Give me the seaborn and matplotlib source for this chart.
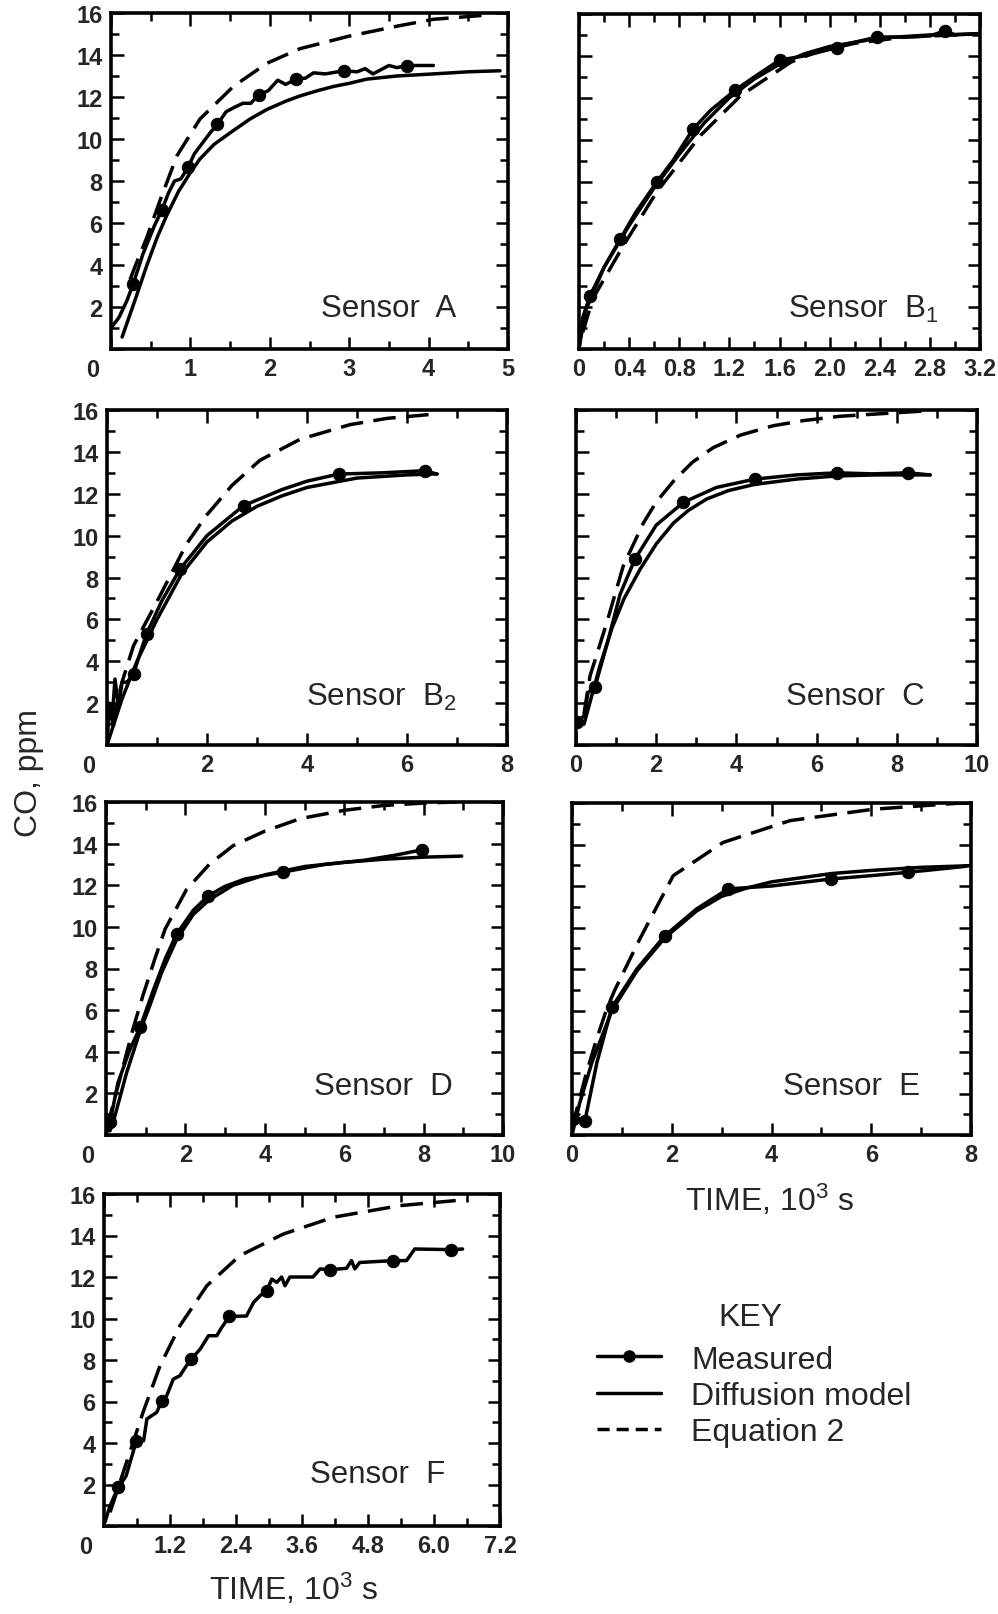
import matplotlib
matplotlib.use("Agg")
import matplotlib.pyplot as plt
import seaborn as sns
from matplotlib.lines import Line2D
from matplotlib.ticker import FixedLocator, FixedFormatter, MultipleLocator

sns.set_style("ticks")
plt.rcParams['font.family'] = ['Liberation Sans', 'DejaVu Sans']
plt.rcParams['mathtext.fontset'] = 'custom'
plt.rcParams['mathtext.rm'] = 'Liberation Sans'
plt.rcParams['mathtext.it'] = 'Liberation Sans:italic'
plt.rcParams['mathtext.bf'] = 'Liberation Sans:bold'

# ---- data (time in 10^3 s, CO in ppm) ----
# Sensor A
a_meas_t = [0.0, 0.1, 0.2, 0.28, 0.4, 0.55, 0.64, 0.72, 0.8, 0.88, 0.97, 1.05, 1.15, 1.25, 1.34, 1.45,
            1.55, 1.66, 1.76, 1.86, 1.98, 2.1, 2.2, 2.33, 2.45, 2.55, 2.7, 2.93, 3.1, 3.2, 3.3, 3.4,
            3.5, 3.6, 3.73, 3.9, 4.06]
a_meas_y = [1.0, 1.5, 2.3, 3.1, 4.5, 5.9, 6.6, 7.4, 8.0, 8.1, 8.65, 9.3, 9.8, 10.3, 10.7, 11.3,
            11.5, 11.7, 11.7, 12.1, 12.3, 12.8, 12.6, 12.85, 12.9, 13.15, 13.1, 13.25, 13.2, 13.35, 13.1, 13.3,
            13.5, 13.4, 13.5, 13.5, 13.5]
a_dot_t = [0.28, 0.64, 0.97, 1.34, 1.86, 2.33, 2.93, 3.73]
a_dot_y = [3.1, 6.6, 8.65, 10.7, 12.1, 12.85, 13.25, 13.5]
a_diff_t = [0.14, 0.3, 0.45, 0.58, 0.7, 0.85, 1.0, 1.12, 1.3, 1.54, 1.75, 1.96, 2.2, 2.38, 2.6, 2.8,
            3.0, 3.22, 3.6, 4.06, 4.5, 4.9]
a_diff_y = [0.57, 2.3, 3.97, 5.3, 6.35, 7.5, 8.4, 9.05, 9.75, 10.4, 10.95, 11.4, 11.8, 12.05, 12.3, 12.5,
            12.65, 12.85, 13.0, 13.1, 13.2, 13.25]
a_eq_t = [0.24, 0.3, 0.45, 0.62, 0.83, 1.12, 1.54, 1.96, 2.38, 3.0, 3.64, 4.06, 4.73]
a_eq_y = [3.3, 3.9, 5.3, 7.1, 9.2, 10.95, 12.5, 13.6, 14.3, 14.9, 15.4, 15.7, 15.9]

# Sensor B1
b1_meas_t = [0.0, 0.03, 0.088, 0.2, 0.33, 0.45, 0.62, 0.75, 0.91, 1.05, 1.245, 1.4, 1.6, 1.8, 2.06,
             2.2, 2.38, 2.6, 2.8, 2.92, 3.0, 3.2]
b1_meas_y = [0.0, 1.5, 2.55, 3.9, 5.26, 6.5, 7.97, 9.0, 10.5, 11.4, 12.36, 13.0, 13.8, 14.0, 14.4,
             14.65, 14.9, 14.9, 14.95, 15.2, 15.0, 15.07]
b1_dot_t = [0.088, 0.33, 0.62, 0.91, 1.245, 1.6, 2.06, 2.38, 2.92]
b1_dot_y = [2.55, 5.26, 7.97, 10.5, 12.36, 13.8, 14.4, 14.9, 15.2]
b1_diff_t = [0.0, 0.05, 0.2, 0.4, 0.6, 0.8, 1.0, 1.2, 1.4, 1.6, 1.8, 2.0, 2.4, 2.8, 3.2]
b1_diff_y = [0.0, 1.8, 3.9, 5.9, 7.7, 9.3, 10.8, 12.0, 12.9, 13.6, 14.1, 14.45, 14.85, 15.0, 15.05]
b1_eq_t = [0.03, 0.11, 0.35, 0.62, 0.97, 1.29, 1.69, 1.9, 2.2, 2.6, 3.0, 3.2]
b1_eq_y = [0.8, 2.4, 4.9, 7.5, 10.2, 12.1, 13.7, 14.2, 14.6, 14.9, 15.0, 15.05]

# Sensor B2
b2_meas_t = [0.0, 0.05, 0.1, 0.16, 0.23, 0.3, 0.4, 0.53, 0.65, 0.79, 1.1, 1.46, 2.0, 2.73, 3.5, 4.0,
             4.63, 5.5, 6.36, 6.6]
b2_meas_y = [0.0, 2.0, 1.2, 3.15, 1.8, 3.0, 3.0, 3.39, 4.3, 5.3, 6.9, 8.4, 10.0, 11.43, 12.2, 12.6,
             12.94, 13.0, 13.1, 12.94]
b2_dot_t = [0.53, 0.79, 1.46, 2.73, 4.63, 6.36]
b2_dot_y = [3.39, 5.3, 8.4, 11.43, 12.94, 13.1]
b2_diff_t = [0.0, 0.3, 0.6, 1.0, 1.5, 2.0, 2.5, 3.0, 3.5, 4.0, 5.0, 6.0, 6.6]
b2_diff_y = [0.0, 2.2, 4.0, 6.0, 8.2, 9.7, 10.7, 11.4, 11.9, 12.3, 12.75, 12.9, 12.95]
b2_eq_t = [0.1, 0.3, 0.53, 1.06, 1.59, 2.0, 2.5, 3.06, 3.86, 4.86, 5.6, 6.53]
b2_eq_y = [1.0, 3.0, 4.74, 7.13, 9.6, 11.0, 12.4, 13.6, 14.6, 15.3, 15.6, 15.8]

# Sensor C
c_meas_t = [0.0, 0.02, 0.2, 0.3, 0.47, 0.8, 1.1, 1.47, 2.0, 2.68, 3.5, 4.46, 5.5, 6.5, 7.4, 8.29, 8.83]
c_meas_y = [1.0, 1.08, 1.4, 2.5, 2.75, 5.0, 7.2, 8.88, 10.5, 11.59, 12.3, 12.7, 12.9, 13.0, 12.95, 13.0, 12.9]
c_dot_t = [0.02, 0.47, 1.47, 2.68, 4.46, 6.5, 8.29]
c_dot_y = [1.08, 2.75, 8.88, 11.59, 12.7, 13.0, 13.0]
c_diff_t = [0.2, 0.4, 0.6, 0.9, 1.2, 1.6, 2.0, 2.43, 2.8, 3.26, 3.8, 4.46, 5.5, 6.5, 7.5, 8.83]
c_diff_y = [1.0, 2.4, 3.8, 5.6, 7.0, 8.4, 9.6, 10.6, 11.2, 11.75, 12.15, 12.45, 12.7, 12.85, 12.9, 12.9]
c_eq_t = [0.2, 0.35, 0.77, 1.18, 1.68, 2.0, 2.43, 2.9, 3.42, 4.1, 4.92, 5.7, 6.58, 8.83]
c_eq_y = [1.5, 3.3, 5.86, 8.56, 10.6, 11.6, 12.6, 13.5, 14.2, 14.8, 15.25, 15.5, 15.7, 15.97]

# Sensor D
d_meas_t = [0.0, 0.1, 0.3, 0.6, 0.86, 1.2, 1.5, 1.78, 2.2, 2.58, 3.0, 3.5, 4.45, 5.5, 6.5, 7.3, 7.95]
d_meas_y = [0.0, 0.61, 2.5, 4.1, 5.18, 7.0, 8.5, 9.66, 10.8, 11.5, 11.95, 12.3, 12.63, 13.0, 13.2, 13.45, 13.7]
d_dot_t = [0.1, 0.86, 1.78, 2.58, 4.45, 7.95]
d_dot_y = [0.61, 5.18, 9.66, 11.5, 12.63, 13.7]
d_diff_t = [0.1, 0.18, 0.52, 0.86, 1.1, 1.4, 1.78, 2.2, 2.6, 3.2, 4.0, 5.0, 6.0, 7.0, 8.0, 8.96]
d_diff_y = [0.2, 0.6, 3.0, 5.0, 6.2, 7.8, 9.4, 10.6, 11.3, 12.0, 12.5, 12.9, 13.1, 13.25, 13.35, 13.4]
d_eq_t = [0.05, 0.1, 0.35, 0.68, 0.93, 1.23, 1.49, 2.03, 2.6, 3.2, 4.0, 4.89, 6.0, 6.98, 8.0, 8.83]
d_eq_y = [0.3, 0.9, 2.7, 5.1, 6.7, 8.46, 9.9, 11.8, 13.0, 13.9, 14.6, 15.2, 15.6, 15.83, 15.95, 16.0]

# Sensor E
e_meas_t = [0.0, 0.03, 0.26, 0.5, 0.8, 1.3, 1.86, 2.5, 3.13, 4.0, 5.2, 6.0, 6.74, 7.9]
e_meas_y = [0.0, 0.77, 0.69, 3.5, 6.15, 8.0, 9.6, 10.9, 11.86, 12.0, 12.34, 12.5, 12.66, 12.95]
e_dot_t = [0.03, 0.26, 0.8, 1.86, 3.13, 5.2, 6.74]
e_dot_y = [0.77, 0.69, 6.15, 9.6, 11.86, 12.34, 12.66]
e_diff_t = [0.0, 0.15, 0.4, 0.8, 1.3, 1.86, 2.5, 3.0, 3.5, 4.0, 5.2, 6.0, 7.0, 8.0]
e_diff_y = [0.0, 1.5, 3.5, 6.0, 7.9, 9.5, 10.8, 11.5, 11.9, 12.2, 12.6, 12.75, 12.9, 12.98]
e_eq_t = [0.02, 0.06, 0.29, 0.49, 0.7, 0.86, 1.36, 2.03, 3.03, 4.37, 6.04, 7.98]
e_eq_y = [0.3, 0.9, 3.0, 4.6, 6.1, 7.0, 9.45, 12.5, 14.1, 15.15, 15.7, 16.03]

# Sensor F (no diffusion-model curve)
f_meas_t = [0.02, 0.1, 0.18, 0.26, 0.4, 0.59, 0.72, 0.78, 0.96, 1.05, 1.14, 1.26, 1.38, 1.5, 1.59,
            1.75, 1.9, 2.05, 2.14, 2.28, 2.59, 2.72, 2.84, 2.96, 3.05, 3.14, 3.23, 3.29, 3.38, 3.8,
            3.93, 4.11, 4.41, 4.5, 4.56, 4.65, 5.26, 5.5, 5.65, 6.3, 6.52]
f_meas_y = [0.2, 0.9, 1.4, 1.86, 2.4, 4.11, 4.11, 5.16, 5.48, 6.04, 6.28, 7.08, 7.24, 7.73, 8.05,
            8.53, 9.17, 9.17, 9.57, 10.1, 10.12, 10.78, 11.1, 11.34, 11.9, 11.74, 12.0, 11.58, 12.0, 12.0,
            12.39, 12.35, 12.42, 12.79, 12.39, 12.7, 12.79, 12.79, 13.35, 13.32, 13.35]
f_dot_t = [0.26, 0.59, 1.05, 1.59, 2.28, 2.96, 4.11, 5.26, 6.3]
f_dot_y = [1.86, 4.11, 6.04, 8.05, 10.1, 11.34, 12.35, 12.79, 13.32]
f_eq_t = [0.11, 0.41, 0.71, 1.02, 1.38, 1.87, 2.47, 3.26, 4.17, 5.38, 6.59]
f_eq_y = [0.66, 3.07, 5.48, 7.73, 9.65, 11.58, 13.03, 14.07, 14.88, 15.44, 15.73]

# ticks
y_ticks = [0, 2, 4, 6, 8, 10, 12, 14, 16]
y_labels = ['', '2', '4', '6', '8', '10', '12', '14', '16']
a_xticks = [0, 1, 2, 3, 4, 5]
a_xlabels = ['', '1', '2', '3', '4', '5']
b1_xticks = [0, 0.4, 0.8, 1.2, 1.6, 2.0, 2.4, 2.8, 3.2]
b1_xlabels = ['0', '0.4', '0.8', '1.2', '1.6', '2.0', '2.4', '2.8', '3.2']
b2_xticks = [0, 2, 4, 6, 8]
b2_xlabels = ['', '2', '4', '6', '8']
c_xticks = [0, 2, 4, 6, 8, 10]
c_xlabels = ['0', '2', '4', '6', '8', '10']
d_xticks = [0, 2, 4, 6, 8, 10]
d_xlabels = ['', '2', '4', '6', '8', '10']
e_xticks = [0, 2, 4, 6, 8]
e_xlabels = ['0', '2', '4', '6', '8']
f_xticks = [0, 1.2, 2.4, 3.6, 4.8, 6.0, 7.2]
f_xlabels = ['', '1.2', '2.4', '3.6', '4.8', '6.0', '7.2']

W, H = 998, 1615
LW = 2.5
TICK_FS = 17
DASH = (0, (6.5, 3))
fig = plt.figure(figsize=(W / 100, H / 100), dpi=100)


def add_ax(left, top, right, bottom):
    return fig.add_axes([left / W, 1 - bottom / H, (right - left) / W, (bottom - top) / H])


def panel(ax, meas, dots, diff, eq, xticks, xlabels, xminor, name, npos, left_col):
    sns.lineplot(x=eq[0], y=eq[1], ax=ax, color='k', lw=LW, linestyle=DASH,
                 sort=False, estimator=None)
    if diff is not None:
        sns.lineplot(x=diff[0], y=diff[1], ax=ax, color='k', lw=LW, sort=False, estimator=None)
    sns.lineplot(x=meas[0], y=meas[1], ax=ax, color='k', lw=LW, sort=False, estimator=None)
    sns.scatterplot(x=dots[0], y=dots[1], ax=ax, color='k', s=80, edgecolor='k', zorder=4)

    ax.set_xlim(xticks[0], xticks[-1])
    ax.set_ylim(0, 16)
    ax.xaxis.set_major_locator(FixedLocator(xticks))
    ax.xaxis.set_major_formatter(FixedFormatter(xlabels))
    ax.xaxis.set_minor_locator(MultipleLocator(xminor))
    ax.yaxis.set_major_locator(FixedLocator(y_ticks))
    ax.yaxis.set_minor_locator(MultipleLocator(1))
    if left_col:
        ax.yaxis.set_major_formatter(FixedFormatter(y_labels))
        ax.text(-0.047, -0.062, '0', transform=ax.transAxes, ha='center', va='center',
                fontsize=TICK_FS, fontweight='bold')
    else:
        ax.yaxis.set_major_formatter(FixedFormatter([''] * len(y_ticks)))
    ax.tick_params(which='both', direction='in', top=True, right=True, width=1.8, color='k',
                   labelsize=TICK_FS, pad=6)
    ax.tick_params(which='major', length=9)
    ax.tick_params(which='minor', length=5.5)
    for lab in ax.get_xticklabels() + ax.get_yticklabels():
        lab.set_fontweight('bold')
    for sp in ax.spines.values():
        sp.set_linewidth(2.6)
        sp.set_color('k')
    ax.set_xlabel('')
    ax.set_ylabel('')
    ax.text(npos[0], npos[1], name, transform=ax.transAxes, ha='center', va='center', fontsize=22.5)


ax_a = add_ax(111, 14, 508, 350)
panel(ax_a, (a_meas_t, a_meas_y), (a_dot_t, a_dot_y), (a_diff_t, a_diff_y), (a_eq_t, a_eq_y),
      a_xticks, a_xlabels, 0.5, 'Sensor  A', (0.70, 0.122), True)

ax_b1 = add_ax(579, 15, 980, 350)
panel(ax_b1, (b1_meas_t, b1_meas_y), (b1_dot_t, b1_dot_y), (b1_diff_t, b1_diff_y), (b1_eq_t, b1_eq_y),
      b1_xticks, b1_xlabels, 0.2, 'Sensor  B$_{\\rm 1}$', (0.708, 0.122), False)

ax_b2 = add_ax(107, 411, 507, 746)
panel(ax_b2, (b2_meas_t, b2_meas_y), (b2_dot_t, b2_dot_y), (b2_diff_t, b2_diff_y), (b2_eq_t, b2_eq_y),
      b2_xticks, b2_xlabels, 1, 'Sensor  B$_{\\rm 2}$', (0.685, 0.146), True)

ax_c = add_ax(576, 411, 977, 746)
panel(ax_c, (c_meas_t, c_meas_y), (c_dot_t, c_dot_y), (c_diff_t, c_diff_y), (c_eq_t, c_eq_y),
      c_xticks, c_xlabels, 1, 'Sensor  C', (0.696, 0.146), False)

ax_d = add_ax(106, 803, 503, 1136)
panel(ax_d, (d_meas_t, d_meas_y), (d_dot_t, d_dot_y), (d_diff_t, d_diff_y), (d_eq_t, d_eq_y),
      d_xticks, d_xlabels, 1, 'Sensor  D', (0.698, 0.147), True)

ax_e = add_ax(572, 804, 971, 1136)
panel(ax_e, (e_meas_t, e_meas_y), (e_dot_t, e_dot_y), (e_diff_t, e_diff_y), (e_eq_t, e_eq_y),
      e_xticks, e_xlabels, 1, 'Sensor  E', (0.70, 0.147), False)

ax_f = add_ax(104, 1195, 500, 1527)
panel(ax_f, (f_meas_t, f_meas_y), (f_dot_t, f_dot_y), None, (f_eq_t, f_eq_y),
      f_xticks, f_xlabels, 0.6, 'Sensor  F', (0.69, 0.157), True)

# axis titles
fig.text(29 / W, 1 - 773 / H, 'CO, ppm', rotation=90, ha='center', va='center', fontsize=23)
fig.text(770 / W, 1 - 1200 / H, 'TIME, 10$^{\\rm 3}$ s', ha='center', va='center', fontsize=23)
fig.text(294 / W, 1 - 1589 / H, 'TIME, 10$^{\\rm 3}$ s', ha='center', va='center', fontsize=23)

# key
fig.text(750 / W, 1 - 1318 / H, 'KEY', ha='center', va='center', fontsize=23)
handles = [
    Line2D([], [], color='k', lw=LW, marker='o', markersize=8),
    Line2D([], [], color='k', lw=LW),
    Line2D([], [], color='k', lw=LW, linestyle=(0, (3.5, 2))),
]
fig.legend(handles, ['Measured', 'Diffusion model', 'Equation 2'],
           loc='center left', bbox_to_anchor=(597 / W, 1 - 1397 / H), frameon=False,
           fontsize=23, handlelength=2.0, handletextpad=0.95,
           labelspacing=0.2, borderpad=0, borderaxespad=0)

fig.savefig('out.png', dpi=100)
